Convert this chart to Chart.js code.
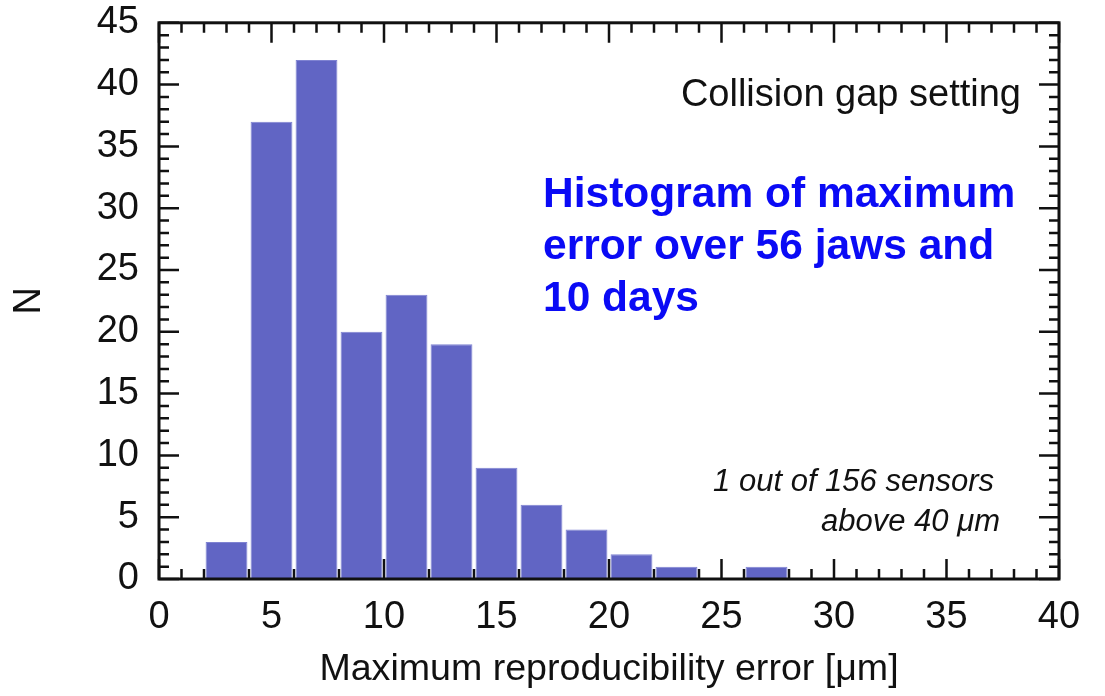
<!DOCTYPE html>
<html>
<head>
<meta charset="utf-8">
<script src="https://cdn.jsdelivr.net/npm/chart.js@4/dist/chart.umd.min.js"></script>
<style>
  html, body { margin: 0; padding: 0; background: #ffffff; }
  #wrap { width: 1105px; height: 696px; position: relative; }
</style>
</head>
<body>
<div id="wrap"><canvas id="c" width="1105" height="696"></canvas></div>
<script>
// ---- data ----
const binCenters = [3, 5, 7, 9, 11, 13, 15, 17, 19, 21, 23, 25, 27];   // µm, bins of width 2
const counts     = [3, 37, 42, 20, 23, 19, 9, 6, 4, 2, 1, 0, 1];
const xMajorTicks = [0, 5, 10, 15, 20, 25, 30, 35, 40];
const yMajorTicks = [0, 5, 10, 15, 20, 25, 30, 35, 40, 45];
const xTitle = 'Maximum reproducibility error [\u03bcm]';
const yTitle = 'N';
const noteTop = 'Collision gap setting';
const noteBlue = ['Histogram of maximum', 'error over 56 jaws and', '10 days'];
const noteItalic = ['1 out of 156 sensors', 'above 40 \u03bcm'];

const FONT = '"Liberation Sans", Arial, Helvetica, sans-serif';

const frameTicks = {
  id: 'frameTicks',
  beforeDatasetsDraw(chart) {
    const {ctx, chartArea: a, scales: {x, y}} = chart;
    ctx.save();
    ctx.strokeStyle = '#111';
    ctx.lineWidth = 2.5;
    ctx.beginPath();
    for (let v = x.min; v <= x.max; v += 1) {
      const px = x.getPixelForValue(v);
      const len = xMajorTicks.includes(v) ? 20 : 10;
      ctx.moveTo(px, a.bottom); ctx.lineTo(px, a.bottom - len);
      ctx.moveTo(px, a.top); ctx.lineTo(px, a.top + len);
    }
    for (let v = y.min; v <= y.max; v += 1) {
      const py = y.getPixelForValue(v);
      const len = yMajorTicks.includes(v) ? 20 : 10;
      ctx.moveTo(a.left, py); ctx.lineTo(a.left + len, py);
      ctx.moveTo(a.right, py); ctx.lineTo(a.right - len, py);
    }
    ctx.stroke();
    ctx.restore();
  },
  afterDatasetsDraw(chart) {
    const {ctx, chartArea: a} = chart;
    ctx.save();
    ctx.strokeStyle = '#111';
    ctx.lineWidth = 3;
    ctx.strokeRect(a.left, a.top, a.right - a.left, a.bottom - a.top);
    ctx.restore();
  }
};

const notes = {
  id: 'notes',
  afterDraw(chart) {
    const {ctx} = chart;
    ctx.save();
    ctx.fillStyle = '#111';
    ctx.textAlign = 'right';
    ctx.textBaseline = 'alphabetic';
    ctx.font = '38px ' + FONT;
    ctx.fillText(noteTop, 1021, 106);

    ctx.fillStyle = '#0a0af5';
    ctx.textAlign = 'left';
    ctx.font = 'bold 42.5px ' + FONT;
    noteBlue.forEach((t, i) => ctx.fillText(t, 543, 207 + i * 52));

    ctx.fillStyle = '#111';
    ctx.textAlign = 'right';
    ctx.font = 'italic 31px ' + FONT;
    ctx.fillText(noteItalic[0], 994, 491);
    ctx.fillText(noteItalic[1], 1000, 531);
    ctx.restore();
  }
};

new Chart(document.getElementById('c'), {
  type: 'bar',
  data: {
    datasets: [{
      data: binCenters.map((c, i) => ({x: c, y: counts[i]})),
      backgroundColor: '#6165c4',
      borderColor: '#7f83d2',
      borderWidth: 1,
      barPercentage: 0.93,
      categoryPercentage: 1.0
    }]
  },
  options: {
    responsive: false,
    animation: false,
    devicePixelRatio: 1,
    layout: { padding: { top: 0, right: 46, left: 0, bottom: 0 } },
    plugins: { legend: { display: false }, tooltip: { enabled: false } },
    scales: {
      x: {
        type: 'linear',
        min: 0, max: 40,
        offset: false,
        grid: { display: false, drawTicks: false },
        border: { display: false },
        ticks: { stepSize: 5, autoSkip: false, maxRotation: 0, padding: 16,
                 color: '#111', font: { family: FONT, size: 38 } },
        title: { display: true, text: xTitle, color: '#111',
                 font: { family: FONT, size: 37.6 }, padding: { top: 0, bottom: 4 } },
        afterFit(s) { s.height = 117; }
      },
      y: {
        min: 0, max: 45,
        grid: { display: true, drawOnChartArea: false, drawTicks: true, tickLength: 20,
                color: 'rgba(0,0,0,0)' },
        border: { display: false },
        ticks: { stepSize: 5, autoSkip: false, padding: 0,
                 color: '#111', font: { family: FONT, size: 38 } },
        title: { display: true, text: yTitle, color: '#111',
                 font: { family: FONT, size: 38 }, padding: { top: 7, bottom: 0 } },
        afterFit(s) { s.width = 159; }
      }
    }
  },
  plugins: [frameTicks, notes]
});
</script>
</body>
</html>
